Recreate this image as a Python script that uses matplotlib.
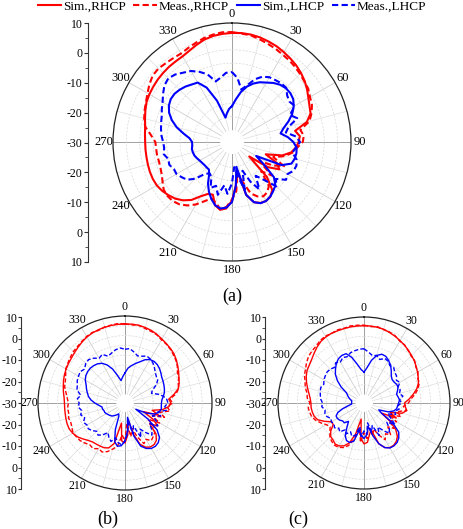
import numpy as np
import matplotlib
matplotlib.use('Agg')
import matplotlib.pyplot as plt

plt.rcParams['font.family'] = ['Liberation Serif', 'DejaVu Serif']

# angles in degrees (0 at top, clockwise), one value every 5 deg
angles = np.arange(0, 360, 5)
theta_labels = ['0', '30', '60', '90', '120', '150', '180', '210', '240', '270', '300', '330']
scale_labels = ['10', '0', '-10', '-20', '-30', '-20', '-10', '0', '10']
series_names = ['Sim.,RHCP', 'Meas.,RHCP', 'Sim.,LHCP', 'Meas.,LHCP']
captions = ['(a)', '(b)', '(c)']

# ---- (a) ----
sim_rhcp_a = [6.3, 6.4, 6.3, 6.0, 5.5, 5.0, 4.3, 3.6, 2.9, 2.0, 1.0, -0.2,
              -1.5, -2.5, -3.2, -5.5, -10.5, -9.0, -9.5, -10.5, -12, -15, -21, -16,
              -14, -18, -26, -16, -11, -9.5, -9, -9.3, -10.5, -14, -24, -18,
              -12.5, -9.5, -8.7, -10, -13.5, -13, -11, -8, -6, -4.5, -3.5, -2.6,
              -2, -1.8, -1.8, -1.9, -2, -2, -2, -1.8, -1.5, -0.8, 0, 0.8,
              1.2, 1.5, 1.8, 2.0, 2.2, 2.3, 2.5, 3.2, 4.2, 5.2, 5.8, 6.1]
meas_rhcp_a = [6.6, 6.2, 6.0, 5.3, 4.6, 4.0, 3.3, 2.8, 2.2, 1.5, 0.8, 0.3,
               -0.8, -1.5, -2.8, -4.5, -8.5, -7.5, -8.0, -10.0, -11.5, -14, -18, -13,
               -17, -22, -15, -19, -13, -11.5, -11, -12, -14, -19, -23, -16,
               -13, -10, -9, -11, -12, -10, -7.5, -5.5, -4, -3.2, -3, -3.3,
               -4.5, -5.5, -6, -6.2, -6, -6, -5.8, -4, -1.5, -0.5, 0.3, 1.0,
               2.0, 3.2, 4.2, 4.4, 4.0, 3.8, 3.7, 4.3, 5.0, 5.8, 6.3, 6.7]
sim_lhcp_a = [-21, -18.5, -15.5, -13, -11.2, -9.8, -8.8, -7.5, -6.5, -6.0, -6.0, -6.5,
              -7.8, -9.6, -12, -14.5, -16, -13.5, -11.5, -10.2, -10, -10.2, -10.8, -14,
              -24, -20, -14, -11.5, -10.5, -9.5, -9, -9.2, -10.5, -14, -25, -18,
              -12, -9.8, -9.2, -10, -11.8, -14, -16.5, -19.5, -21, -21, -21, -20.8,
              -20.5, -20, -19.5, -19.3, -19.2, -19.5, -19.5, -18.5, -16, -13, -10.5, -8.5,
              -7.2, -6.5, -6.4, -6.8, -7.4, -8.2, -8.8, -12, -18, -25, -23.5, -22]
meas_lhcp_a = [-8.3, -10.5, -14.5, -12.5, -9.5, -7.5, -6.5, -6.2, -5.8, -5.8, -7.5, -8.2,
               -7.4, -10.5, -8.5, -12.5, -14, -10.5, -9, -10.5, -11.5, -9.5, -8.8, -9,
               -10.5, -9.8, -13, -11, -16, -19, -14, -18, -23, -16, -21, -25,
               -19, -15, -18, -14, -17, -15.5, -19, -20, -19, -15, -12.5, -11.5,
               -10.5, -10.5, -9.5, -9.8, -8.5, -9, -8.7, -8, -7.5, -7, -6.5, -5.5,
               -4.5, -3, -1.5, -0.8, -1.5, -2.8, -3.8, -5.5, -7.5, -11, -10, -8.5]

# ---- (b) ----
sim_rhcp_b = [5.9, 6.0, 5.9, 5.5, 5.0, 4.2, 3.3, 2.5, 1.8, 1.0, -0.2, -1.5,
              -2.8, -4, -5, -6.3, -9, -12, -11, -12, -15, -20, -16, -24,
              -18, -14, -18, -12, -9.5, -8.5, -8.5, -9.5, -12, -18, -26, -18,
              -14, -15, -24, -13, -10, -9.2, -9, -8.8, -8.5, -7.5, -6, -4.5,
              -3.6, -3, -3, -3.2, -3.4, -3.5, -3.5, -3.2, -2.5, -1.8, -1, -0.3,
              0.3, 0.8, 1.3, 2.0, 2.8, 3.7, 4.5, 5, 5.4, 5.6, 5.8, 5.9]
meas_rhcp_b = [6.0, 5.6, 5.8, 5.0, 4.5, 4.0, 2.8, 2.3, 1.5, 0.5, -0.5, -1.8,
               -3.5, -4.2, -5.5, -6.0, -8.0, -11.5, -10, -13, -11, -16, -13, -19,
               -14, -20, -15, -13, -12, -11, -13, -11.5, -16, -21, -17, -24,
               -15, -18, -12, -10, -8, -6.8, -7.5, -6, -6.5, -5.5, -4.5, -4.2,
               -3.8, -4.5, -5, -4.6, -5.2, -5, -5.5, -4.8, -3.8, -2.5, -2, -1,
               0.5, 1.2, 2.0, 2.8, 3.3, 4.0, 4.8, 5.3, 5.0, 5.8, 6.0, 6.3]
sim_lhcp_b = [-19, -16.5, -15, -13.5, -12, -10, -8.8, -8.5, -8.8, -9.5, -10.5, -11.5,
              -12, -12.5, -13, -13.6, -14.5, -15.5, -15.8, -15.8, -15.6, -16.5, -18, -22,
              -28, -20, -13, -9.5, -8, -7.4, -7.6, -8.8, -11, -17, -27, -20,
              -15, -12.5, -12, -14, -20, -27, -28, -27, -26, -25, -24.5, -24,
              -23.5, -23, -23, -22.5, -22.5, -21, -19, -17, -15.5, -14.5, -13.5, -12.5,
              -11, -10, -9.5, -9.3, -9.5, -10, -11, -13, -16, -20, -22.8, -21]
meas_lhcp_b = [-7, -6.5, -8, -9.5, -9, -8, -8.5, -9.5, -11, -12.5, -13.5, -14,
               -16, -19, -20, -17, -14.5, -13, -12.5, -14, -13, -17, -15, -19,
               -16, -14, -18, -15, -13, -16, -19, -15, -22, -18, -24, -19,
               -15, -13, -14, -16, -13.5, -15, -17, -14.5, -13, -14, -12.5, -11.5,
               -12, -11, -12.5, -11, -12, -10.5, -11, -10, -11.5, -9, -8.5, -7.5,
               -7, -6.5, -7.5, -6, -5.5, -6.5, -8, -7, -9, -8, -6.8, -6.2]

# ---- (c) ----
sim_rhcp_c = [5.5, 5.5, 5.3, 5.0, 4.3, 3.6, 2.8, 2.0, 1.2, 0.3, -0.5, -1.5,
              -2.5, -3.5, -4.5, -6.2, -8.6, -11, -13.5, -13, -12, -14, -20, -16,
              -24, -18, -13, -10, -8.5, -7.7, -7.8, -9, -12, -20, -18, -14,
              -13.3, -16, -26, -18, -12.5, -10, -8.8, -8.5, -9.5, -10, -12, -15,
              -15, -12, -9, -7.8, -7.3, -7, -7, -6.5, -5.5, -4.2, -2.8, -1.5,
              -0.5, 0, 0.8, 2.0, 3.3, 4.4, 5.0, 5.3, 5.3, 5.4, 5.5, 5.5]
meas_rhcp_c = [5.8, 5.2, 5.6, 4.8, 4.5, 3.8, 2.5, 2.2, 1.0, 0.0, -0.3, -1.8,
               -2.2, -3.8, -4.0, -5.5, -7.5, -10, -11.5, -14, -12, -17, -14, -20,
               -15, -19, -14, -17, -13, -15, -12.5, -16, -20, -17, -22, -16,
               -19, -14, -21, -15, -11, -9, -8, -7.8, -8.5, -9.5, -11.5, -13,
               -12, -10, -8, -6.5, -6, -5.5, -6.5, -5, -4.5, -3, -2, -0.5,
               0.5, 1.8, 3.0, 3.6, 4.0, 5.0, 5.5, 5.2, 5.8, 5.5, 6.0, 5.9]
sim_lhcp_c = [-18.5, -16, -12, -9, -7.6, -7.8, -9, -10.5, -12.5, -14.5, -15.5, -15.5,
              -15, -15, -16, -17, -16.5, -16, -16.5, -17, -17.3, -18.5, -21, -26,
              -24, -16, -11, -9, -7.8, -7.4, -7.6, -9, -12, -17, -22, -18,
              -16, -18, -20, -14, -12.7, -13, -15, -19, -22, -20, -20, -19,
              -18.5, -18.5, -20, -23, -26, -28, -28, -28, -28, -27, -26, -25,
              -24, -20, -16.5, -13.5, -11.5, -9.5, -8, -7.3, -7.3, -10, -14, -17]
meas_lhcp_c = [-6.4, -8, -9.5, -9, -10.5, -9, -9.5, -11, -10.5, -12, -12.5, -14,
               -13, -15, -14.5, -15.5, -14, -16, -15, -17, -16, -18, -17, -21,
               -18, -15, -19, -16, -14, -17, -20, -16, -22, -19, -24, -18,
               -20, -17, -22, -17, -16, -18, -16, -17.5, -15, -16, -14.5, -15.5,
               -15, -15.5, -14, -13.5, -14, -12.5, -13, -12, -11.5, -11, -10.7, -11.5,
               -10.5, -10, -9.5, -9.7, -10.5, -9, -10, -8.5, -9, -7.5, -7, -6.5]

panels = [
    ([sim_rhcp_a, meas_rhcp_a, sim_lhcp_a, meas_lhcp_a], 1.5),
    ([sim_rhcp_b, meas_rhcp_b, sim_lhcp_b, meas_lhcp_b], 1.0),
    ([sim_rhcp_c, meas_rhcp_c, sim_lhcp_c, meas_lhcp_c], 1.0),
]

W, H = 464, 529
fig = plt.figure(figsize=(W / 100, H / 100), dpi=100)

# pixel layout: polar centre x, centre y, radius ; scale axis x, top, bottom
layout = [(232, 142, 119, 88, 23, 262),
          (125, 403, 87, 21, 317, 489),
          (364, 403, 86, 265, 317, 489)]
label_size = [9, 8.5, 8.5]
scale_size = [8.5, 8.5, 8.5]
cap_pos = [(232, 296), (108, 519), (298, 519)]

styles = [('#ff0000', '-'), ('#ff0000', (0, (3, 1.6))),
          ('#0000ff', '-'), ('#0000ff', (0, (3, 1.6)))]

handles = []
for i, ((curves, lw), (cx, cy, rad, sx, sy0, sy1)) in enumerate(zip(panels, layout)):
    ax = fig.add_axes([(cx - rad) / W, (H - cy - rad) / H, 2 * rad / W, 2 * rad / H],
                      projection='polar')
    ax.set_theta_zero_location('N')
    ax.set_theta_direction(-1)
    ax.set_ylim(-30, 10)
    ax.set_rorigin(-34.4)
    th = np.deg2rad(np.append(angles, angles[0]))
    for vals, (c, ls), name in zip(curves, styles, series_names):
        ln, = ax.plot(th, np.append(vals, vals[0]), color=c, linestyle=ls,
                      linewidth=lw, label=name, zorder=3)
        if i == 0:
            handles.append(ln)
    ax.set_xticks(np.deg2rad(np.arange(0, 360, 30)))
    ax.set_xticklabels(theta_labels, fontsize=label_size[i])
    ax.set_xticks(np.deg2rad(np.arange(15, 360, 30)), minor=True)
    ax.set_yticks(np.arange(-25, 10, 5))
    ax.set_yticklabels([])
    ax.tick_params(axis='x', which='major', pad=-3, length=2.5, width=0.6,
                   colors='#333333', labelcolor='black')
    ax.tick_params(axis='x', which='minor', length=0)
    ax.xaxis.set_tick_params(which='both', tick2On=False)
    ax.tick_params(axis='y', length=0)
    ax.xaxis.grid(True, which='major', color='#c8c8c8', linewidth=0.5, linestyle='-')
    ax.xaxis.grid(True, which='minor', color='#dedede', linewidth=0.5, linestyle='-')
    ax.yaxis.grid(True, color='#d8d8d8', linewidth=0.5, linestyle=(0, (3, 2)))
    for k, gl in enumerate(ax.xaxis.get_gridlines()):
        if k % 3 == 0:
            gl.set_color('#a0a0a0')
            gl.set_linewidth(0.7)
    ax.spines['polar'].set_color('#222222')
    ax.spines['polar'].set_linewidth(0.9)
    # polar draw() re-enables the inner spine, so just make it invisible
    ax.spines['inner'].set_linewidth(0)
    ax.spines['inner'].set_edgecolor('none')

    # vertical dB scale at the left
    sa = fig.add_axes([sx / W, (H - sy1) / H, 0.001, (sy1 - sy0) / H])
    sa.set_ylim(0, 8)
    sa.set_yticks(np.arange(9))
    sa.set_yticklabels(scale_labels[::-1], fontsize=scale_size[i])
    sa.set_yticks(np.arange(0.5, 8, 1), minor=True)
    sa.tick_params(axis='y', which='major', length=3 if i == 0 else 2, width=0.8,
                   pad=1 if i == 0 else 0.3, colors='#333333', labelcolor='black')
    sa.tick_params(axis='y', which='minor', length=2, width=0.6, colors='#333333')
    sa.set_xticks([])
    for s in ['top', 'right', 'bottom']:
        sa.spines[s].set_visible(False)
    sa.spines['left'].set_color('#333333')
    sa.spines['left'].set_linewidth(0.8)
    sa.patch.set_visible(False)

    fig.text(cap_pos[i][0] / W, 1 - cap_pos[i][1] / H, captions[i], fontsize=13,
             ha='center', va='center')

fig.legend(handles=handles, loc='upper center', bbox_to_anchor=(0.5, 0.999), ncol=4,
           frameon=False, fontsize=9.5, handlelength=1.75, handletextpad=0.15,
           columnspacing=0.6, borderpad=0, borderaxespad=0)

fig.savefig('out.png', dpi=100)
